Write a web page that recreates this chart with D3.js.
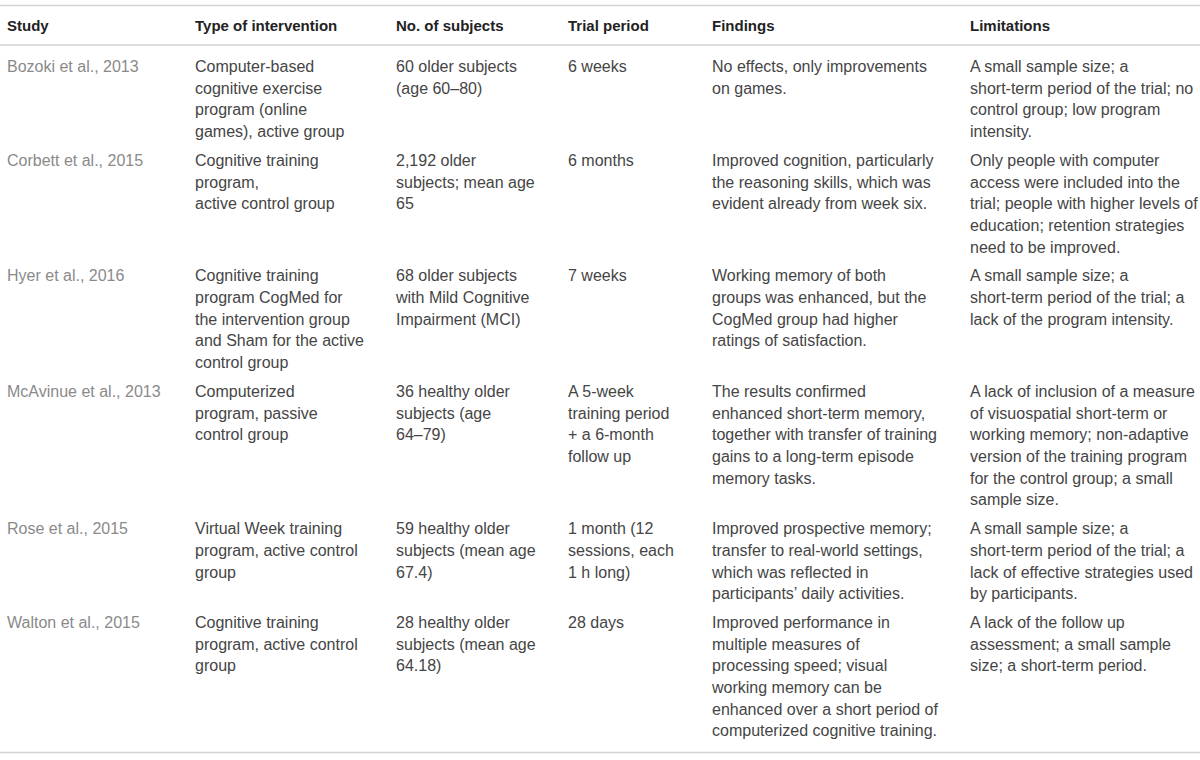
<!DOCTYPE html>
<html>
<head>
<meta charset="utf-8">
<script src="https://cdn.jsdelivr.net/npm/d3@7"></script>
<style>
  body { margin: 0; background: #fff; }
  .head { font: bold 15px "Liberation Sans", Arial, sans-serif; fill: #222; }
  .cell { font: 16px "Liberation Sans", Arial, sans-serif; fill: #454545; }
  .cell.study { fill: #8a8a8a; }
  .rule { stroke: #d2d2d2; stroke-width: 1.5; }
</style>
</head>
<body>
<div id="table"></div>
<script>
var headers = ["Study", "Type of intervention", "No. of subjects", "Trial period", "Findings", "Limitations"];

var studies = [
  ["Bozoki et al., 2013"],
  ["Corbett et al., 2015"],
  ["Hyer et al., 2016"],
  ["McAvinue et al., 2013"],
  ["Rose et al., 2015"],
  ["Walton et al., 2015"]
];

var interventions = [
  ["Computer-based", "cognitive exercise", "program (online", "games), active group"],
  ["Cognitive training", "program,", "active control group"],
  ["Cognitive training", "program CogMed for", "the intervention group", "and Sham for the active", "control group"],
  ["Computerized", "program, passive", "control group"],
  ["Virtual Week training", "program, active control", "group"],
  ["Cognitive training", "program, active control", "group"]
];

var subjects = [
  ["60 older subjects", "(age 60–80)"],
  ["2,192 older", "subjects; mean age", "65"],
  ["68 older subjects", "with Mild Cognitive", "Impairment (MCI)"],
  ["36 healthy older", "subjects (age", "64–79)"],
  ["59 healthy older", "subjects (mean age", "67.4)"],
  ["28 healthy older", "subjects (mean age", "64.18)"]
];

var periods = [
  ["6 weeks"],
  ["6 months"],
  ["7 weeks"],
  ["A 5-week", "training period", "+ a 6-month", "follow up"],
  ["1 month (12", "sessions, each", "1 h long)"],
  ["28 days"]
];

var findings = [
  ["No effects, only improvements", "on games."],
  ["Improved cognition, particularly", "the reasoning skills, which was", "evident already from week six."],
  ["Working memory of both", "groups was enhanced, but the", "CogMed group had higher", "ratings of satisfaction."],
  ["The results confirmed", "enhanced short-term memory,", "together with transfer of training", "gains to a long-term episode", "memory tasks."],
  ["Improved prospective memory;", "transfer to real-world settings,", "which was reflected in", "participants’ daily activities."],
  ["Improved performance in", "multiple measures of", "processing speed; visual", "working memory can be", "enhanced over a short period of", "computerized cognitive training."]
];

var limitations = [
  ["A small sample size; a", "short-term period of the trial; no", "control group; low program", "intensity."],
  ["Only people with computer", "access were included into the", "trial; people with higher levels of", "education; retention strategies", "need to be improved."],
  ["A small sample size; a", "short-term period of the trial; a", "lack of the program intensity."],
  ["A lack of inclusion of a measure", "of visuospatial short-term or", "working memory; non-adaptive", "version of the training program", "for the control group; a small", "sample size."],
  ["A small sample size; a", "short-term period of the trial; a", "lack of effective strategies used", "by participants."],
  ["A lack of the follow up", "assessment; a small sample", "size; a short-term period."]
];

var columns = [studies, interventions, subjects, periods, findings, limitations];

var width = 1200, height = 760;
var lineH = 21.65, rowGap = 7.3;
var firstBase = 72;

var svg = d3.select("#table").append("svg")
    .attr("width", width)
    .attr("height", height);

// column positions
var x = d3.scaleOrdinal()
    .domain(d3.range(headers.length))
    .range([7, 195, 396, 568, 712, 970]);

// each row is as tall as its longest cell
var rowLines = studies.map(function (s, i) {
    return d3.max(columns, function (c) { return c[i].length; });
});
var rowStart = [0];
rowLines.forEach(function (n, i) {
    rowStart.push(rowStart[i] + n * lineH + rowGap);
});

var y = d3.scaleLinear()
    .domain([0, 1])
    .range([firstBase, firstBase + 1]);

// rules
svg.selectAll("line.rule")
    .data([5.5, 45, 752.5])
    .enter().append("line")
    .attr("class", "rule")
    .attr("x1", 0)
    .attr("x2", width)
    .attr("y1", function (d) { return d; })
    .attr("y2", function (d) { return d; });

// header
svg.selectAll("text.head")
    .data(headers)
    .enter().append("text")
    .attr("class", "head")
    .attr("x", function (d, i) { return x(i); })
    .attr("y", 31)
    .text(function (d) { return d; });

// body cells
var cells = [];
columns.forEach(function (col, c) {
    col.forEach(function (lines, r) {
        lines.forEach(function (t, k) {
            cells.push({col: c, row: r, line: k, text: t});
        });
    });
});

svg.selectAll("text.cell")
    .data(cells)
    .enter().append("text")
    .attr("class", function (d) { return d.col === 0 ? "cell study" : "cell"; })
    .attr("x", function (d) { return x(d.col); })
    .attr("y", function (d) { return y(rowStart[d.row] + d.line * lineH); })
    .text(function (d) { return d.text; });
</script>
</body>
</html>
